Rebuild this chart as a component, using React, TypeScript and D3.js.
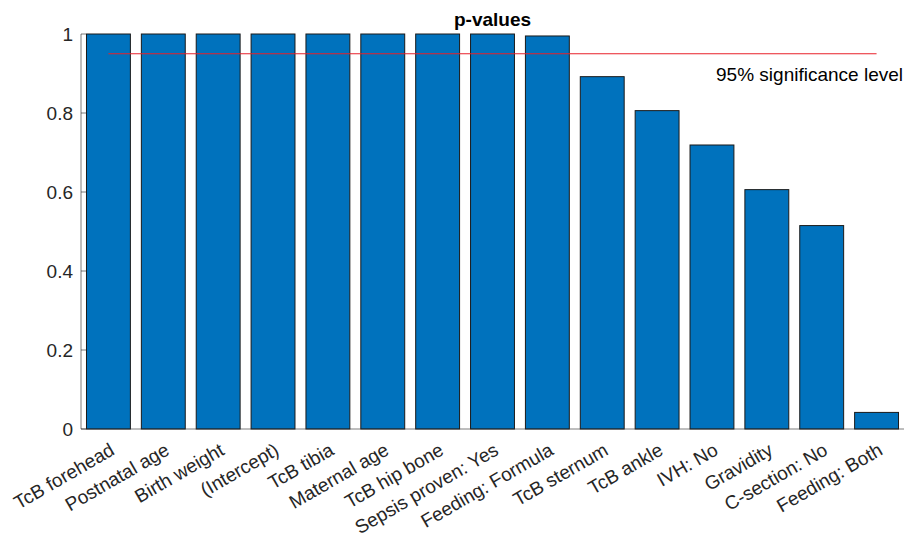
import React from "react";
import * as d3 from "d3";

const categories = [
  "TcB forehead", "Postnatal age", "Birth weight", "(Intercept)", "TcB tibia",
  "Maternal age", "TcB hip bone", "Sepsis proven: Yes", "Feeding: Formula",
  "TcB sternum", "TcB ankle", "IVH: No", "Gravidity", "C-section: No", "Feeding: Both",
];
const pValues = [1, 1, 1, 1, 1, 1, 1, 1, 0.995, 0.892, 0.806, 0.719, 0.606, 0.515, 0.042];
const yTicks = [0, 0.2, 0.4, 0.6, 0.8, 1];
const significance = 0.95;
const title = "p-values";
const sigLabel = "95% significance level";

const W = 905, H = 540;
const left = 81, right = 904, top = 34, bottom = 429;
const font = "'Liberation Sans', Arial, Helvetica, sans-serif";
const axisColor = "#262626";
const fs = 19;

export default function App() {
  const x = d3.scaleBand<string>().domain(categories).range([left, right]).paddingInner(0.2).paddingOuter(0.1);
  const y = d3.scaleLinear().domain([0, 1]).range([bottom, top]);
  const bw = x.bandwidth();
  const firstC = (x(categories[0]) as number) + bw / 2;
  const lastC = (x(categories[categories.length - 1]) as number) + bw / 2;
  return (
    <svg width={W} height={H} style={{ position: "absolute", left: 0, top: 0, background: "#fff" }}>
      <rect x={0} y={0} width={W} height={H} fill="#fff" />
      {categories.map((c, i) => (
        <rect key={c} x={x(c)} y={y(pValues[i])} width={bw} height={y(0) - y(pValues[i])}
          fill="#0072BD" stroke="#1a1a1a" strokeWidth={1} />
      ))}
      <line x1={firstC} x2={lastC} y1={y(significance)} y2={y(significance)} stroke="#e8202a" strokeWidth={1} />
      <text x={right - 1} y={81} textAnchor="end" fontFamily={font} fontSize={fs} fill="#000">{sigLabel}</text>
      {/* axes */}
      <line x1={left} x2={left} y1={top} y2={bottom} stroke={axisColor} strokeWidth={1} opacity={0.6} />
      <line x1={left} x2={right} y1={bottom} y2={bottom} stroke={axisColor} strokeWidth={1} opacity={0.6} />
      {yTicks.map((t) => (
        <g key={t}>
          <line x1={left} x2={left + 5} y1={y(t)} y2={y(t)} stroke={axisColor} strokeWidth={1} opacity={0.6} />
          <text x={left - 8} y={y(t)} dy="0.36em" textAnchor="end" fontFamily={font} fontSize={fs} fill={axisColor}>
            {d3.format("~g")(t)}
          </text>
        </g>
      ))}
      {categories.map((c) => {
        const cx = (x(c) as number) + bw / 2;
        return (
          <text key={c} transform={`translate(${cx + 4},${bottom + 19}) rotate(-30)`} textAnchor="end"
            fontFamily={font} fontSize={fs} fill={axisColor} dy="0.35em">
            {c}
          </text>
        );
      })}
      <text x={(left + right) / 2} y={26} textAnchor="middle" fontFamily={font} fontSize={fs} fontWeight="bold" fill="#000">
        {title}
      </text>
    </svg>
  );
}
